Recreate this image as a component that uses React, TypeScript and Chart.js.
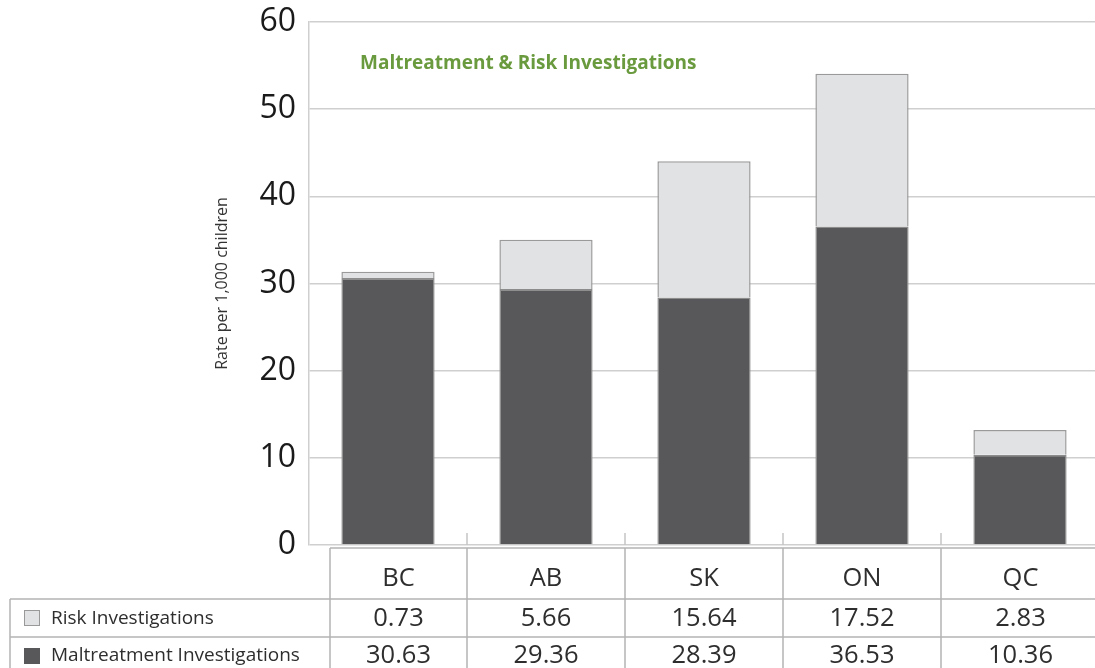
import React, { useEffect, useRef } from "react";
import { Chart, registerables } from "chart.js";

Chart.register(...registerables);

const categories = ["BC", "AB", "SK", "ON", "QC"];
const riskValues = [0.73, 5.66, 15.64, 17.52, 2.83];
const maltreatmentValues = [30.63, 29.36, 28.39, 36.53, 10.36];
const yTicks = [0, 10, 20, 30, 40, 50, 60];
const chartTitle = "Maltreatment & Risk Investigations";
const yTitle = "Rate per 1,000 children";
const riskLabel = "Risk Investigations";
const maltLabel = "Maltreatment Investigations";

const DARK = "#58585a";
const LIGHT = "#e1e2e4";
const LINE = "#c4c4c4";
const FONT = "'Open Sans', sans-serif";

const overlayPlugin = {
  id: "overlay",
  afterDraw(chart: any) {
    const ctx = chart.ctx as CanvasRenderingContext2D;
    const area = chart.chartArea;
    const x = chart.scales.x;
    const W = chart.width;
    ctx.save();

    // small category separator ticks on baseline
    ctx.strokeStyle = LINE;
    ctx.lineWidth = 1.5;
    const bounds: number[] = [];
    for (let i = 1; i < categories.length; i++) {
      const b = (x.getPixelForValue(i - 1) + x.getPixelForValue(i)) / 2;
      bounds.push(b);
      ctx.beginPath();
      ctx.moveTo(b, area.bottom - 12);
      ctx.lineTo(b, area.bottom);
      ctx.stroke();
    }

    // chart title inside plot
    ctx.fillStyle = "#6a9a3e";
    ctx.font = `bold 19px ${FONT}`;
    ctx.textAlign = "left";
    ctx.textBaseline = "middle";
    ctx.fillText(chartTitle, area.left + 51, area.top + 42);

    // data table
    const tableLeft = area.left + 21;
    const legendLeft = 10;
    const rTop = area.bottom + 3;
    const r1 = area.bottom + 54;
    const r2 = area.bottom + 92;
    const rBot = chart.height + 2;
    ctx.strokeStyle = "#b3b3b3";
    ctx.lineWidth = 1.5;
    const hl = (x0: number, y: number) => {
      ctx.beginPath();
      ctx.moveTo(x0, y);
      ctx.lineTo(W, y);
      ctx.stroke();
    };
    const vl = (xx: number, y0: number) => {
      ctx.beginPath();
      ctx.moveTo(xx, y0);
      ctx.lineTo(xx, rBot);
      ctx.stroke();
    };
    hl(tableLeft, rTop);
    hl(legendLeft, r1);
    hl(legendLeft, r2);
    vl(legendLeft, r1);
    vl(tableLeft, rTop);
    bounds.forEach((b) => vl(b, rTop));

    const colEdges = [tableLeft, ...bounds, W];
    ctx.fillStyle = "#2e2e2e";
    ctx.textAlign = "center";
    ctx.textBaseline = "middle";
    ctx.font = `25.5px ${FONT}`;
    categories.forEach((c, i) => {
      const cx = (colEdges[i] + colEdges[i + 1]) / 2;
      ctx.fillText(c, cx, (rTop + r1) / 2 + 5);
      ctx.fillText(riskValues[i].toFixed(2), cx, (r1 + r2) / 2 + 1);
      ctx.fillText(maltreatmentValues[i].toFixed(2), cx, r2 + 19);
    });

    // legend cells
    ctx.textAlign = "left";
    ctx.font = `19px ${FONT}`;
    ctx.fillText(riskLabel, 51, (r1 + r2) / 2 + 1);
    ctx.fillText(maltLabel, 51, r2 + 19);
    ctx.lineWidth = 1;
    ctx.fillStyle = LIGHT;
    ctx.strokeStyle = "#999";
    ctx.fillRect(24.5, (r1 + r2) / 2 - 7.5, 15, 15);
    ctx.strokeRect(24.5, (r1 + r2) / 2 - 7.5, 15, 15);
    ctx.fillStyle = DARK;
    ctx.fillRect(24, r2 + 11, 16, 16);

    ctx.restore();
  },
};

export default function App() {
  const ref = useRef<HTMLCanvasElement>(null);
  useEffect(() => {
    if (!ref.current) return;
    const chart = new Chart(ref.current, {
      type: "bar",
      data: {
        labels: categories,
        datasets: [
          {
            label: maltLabel,
            data: maltreatmentValues,
            backgroundColor: DARK,
            borderColor: "#8c8c8c",
            borderWidth: 1.5,
            barPercentage: 0.59,
            categoryPercentage: 1,
          },
          {
            label: riskLabel,
            data: riskValues,
            backgroundColor: LIGHT,
            borderColor: "#9a9a9a",
            borderWidth: 1.5,
            barPercentage: 0.59,
            categoryPercentage: 1,
          },
        ],
      },
      options: {
        animation: false,
        responsive: false,
        maintainAspectRatio: false,
        layout: { padding: { left: 213, right: 1, top: 22, bottom: 123 } },
        plugins: {
          legend: { display: false },
          tooltip: { enabled: false },
          title: { display: false },
        },
        scales: {
          x: {
            stacked: true,
            display: false,
          },
          y: {
            stacked: true,
            min: 0,
            max: 60,
            afterFit: (s: any) => {
              s.width = 96;
              s.paddingTop = 0;
              s.paddingBottom = 0;
            },
            afterBuildTicks: (s: any) => {
              s.ticks = yTicks.map((v) => ({ value: v }));
            },
            border: { display: true, color: "#cfcfcf", width: 1.5 },
            grid: { color: "#cfcfcf", lineWidth: 1.5, drawTicks: false },
            ticks: {
              padding: 13,
              color: "#1a1a1a",
              font: { family: FONT, size: 32 },
            },
            title: {
              display: true,
              text: yTitle,
              color: "#333",
              font: { family: FONT, size: 16 },
              padding: { top: 0, bottom: 0 },
            },
          },
        },
      },
      plugins: [overlayPlugin],
    });
    return () => chart.destroy();
  }, []);
  return (
    <div
      style={{
        position: "fixed",
        left: 0,
        top: 0,
        width: 1095,
        height: 668,
        overflow: "hidden",
        background: "#fff",
      }}
    >
      <canvas ref={ref} width={1100} height={668} style={{ display: "block" }} />
    </div>
  );
}
